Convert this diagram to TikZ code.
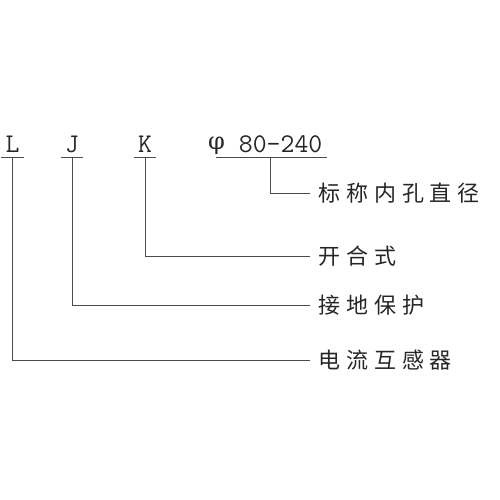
\documentclass[tikz,border=0pt]{standalone}
\usepackage{fontspec}
\newfontfamily\grk{DejaVu Serif}
\newfontfamily\cjk[LetterSpace=27]{Noto Sans CJK SC}
\usetikzlibrary{calc}

\begin{document}
\begin{tikzpicture}[x = 1pt, y = 1pt,
    lead/.style = { draw = black!70, line width = 1pt },
    code/.style = { font = \ttfamily\fontsize{27}{27}\selectfont, text = black!85, anchor = base, inner xsep = 4pt, inner ysep = 5pt, text depth = 0pt, minimum width = 22pt },
    part/.style = { font = \cjk\fontsize{22}{22}\selectfont, text = black!85, anchor = west, inner xsep = 8pt, inner ysep = 0pt }]
		\useasboundingbox (0,0) rectangle (500,-500);

		\node [code] (nL) at (12.5,-152) {L};
		\node [code] (nJ) at (72,-152) {J};
		\node [code] (nK) at (145,-152) {K};
		\node [code, anchor = base west] (nPhi) at (204,-152) {\raisebox{3pt}{\grk\fontsize{24}{24}\selectfont φ} 80-240};

		\node [part] (pBore)  at (310,-193) {标称内孔直径};
		\node [part] (pSplit) at (310,-256) {开合式};
		\node [part] (pEarth) at (310,-305) {接地保护};
		\node [part] (pCT)    at (310,-360) {电流互感器};

		\foreach \n in {nL, nJ, nK}
			\draw [lead] (\n.south west) -- (\n.south east);
		\draw [lead] ($(nPhi.south west)+(12,0)$) -- (nPhi.south east);
		\coordinate (tap) at ($(nPhi.south)+(5,0)$);

		\draw [lead] (tap) |- (pBore.west);
		\draw [lead] (nK.south) |- (pSplit.west);
		\draw [lead] (nJ.south) |- (pEarth.west);
		\draw [lead] (nL.south) |- (pCT.west);
	\end{tikzpicture}
\end{document}
